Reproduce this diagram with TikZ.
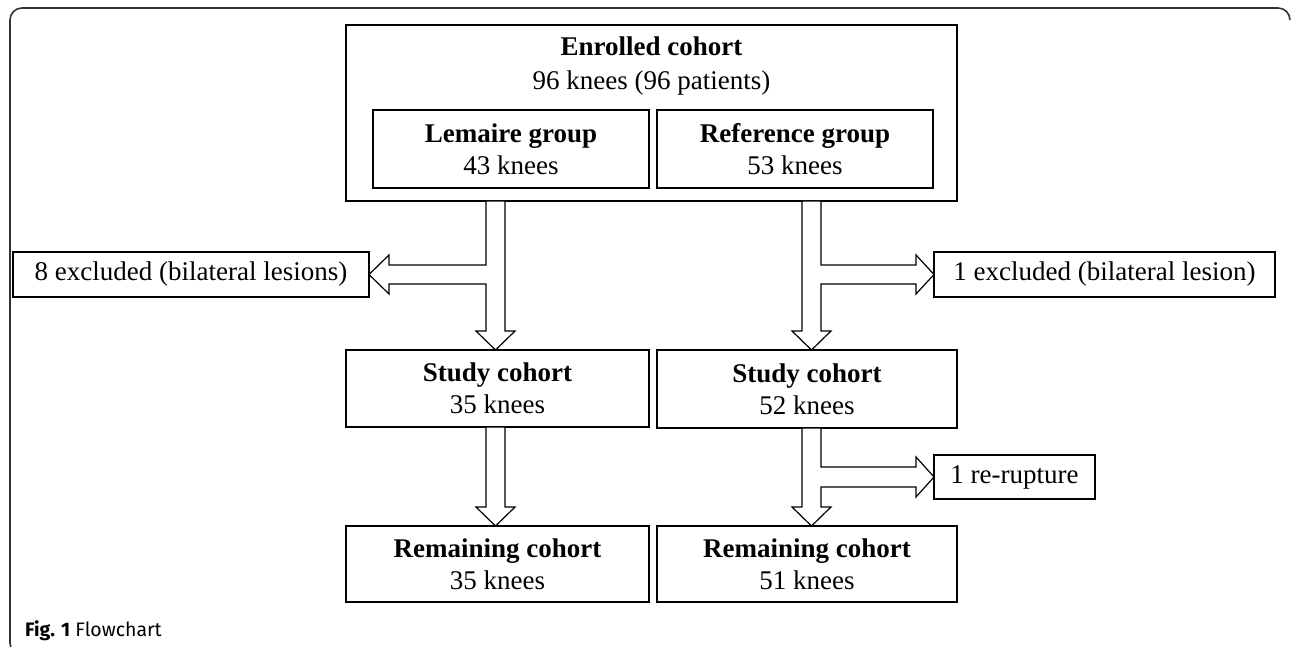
\documentclass[tikz,border=0pt]{standalone}
\usepackage{fontspec}
\setmainfont{Liberation Serif}
\newfontfamily\capfont{Fira Sans}
\usetikzlibrary{calc}
\tikzset{
  box/.style={draw, line width=1.2pt, inner sep=0pt, outer sep=0pt, align=center,
    font=\fontsize{27}{32}\selectfont, anchor=north west},
  blk/.style={draw, fill=white, line width=1.2pt, line join=miter},
  frame/.style={draw=black!80, line width=1.6pt},
}
\begin{document}
\begin{tikzpicture}[x=1pt, y=-1pt]
\useasboundingbox (0,0) rectangle (1293,647);
% frame
\draw[frame] (22,655) arc[start angle=90, end angle=180, radius=12] -- (10,20)
  arc[start angle=180, end angle=270, radius=12] -- (1278,8)
  arc[start angle=270, end angle=360, radius=12];
% boxes
\node[box, minimum width=611, minimum height=176] (enr) at (346,25) {};
\node[font=\fontsize{27}{33.5}\selectfont, align=center, inner sep=0pt] (enrt) at (651.5,66)
  {\textbf{Enrolled cohort}\\96 knees (96 patients)};
\node[box, minimum width=276, minimum height=78] (lem) at (373,110) {\textbf{Lemaire group}\\43 knees};
\node[box, minimum width=276, minimum height=78] (ref) at (657,110) {\textbf{Reference group}\\53 knees};
\node[box, minimum width=356, minimum height=45] (exl) at (13,252) {8 excluded (bilateral lesions)};
\node[box, minimum width=341, minimum height=45] (exr) at (934,252) {1 excluded (bilateral lesion)};
\node[box, minimum width=303, minimum height=77] (sl) at (346,350) {\textbf{Study cohort}\\35 knees};
\node[box, minimum width=300, minimum height=78] (sr) at (657,350) {\textbf{Study cohort}\\52 knees};
\node[box, minimum width=161, minimum height=44] (rr) at (934,455) {1 re-rupture};
\node[box, minimum width=303, minimum height=76] (rl) at (346,526) {\textbf{Remaining cohort}\\35 knees};
\node[box, minimum width=300, minimum height=76] (rrem) at (657,526) {\textbf{Remaining cohort}\\51 knees};
% caption
\node[anchor=base west, font=\capfont\fontsize{19.5}{21}\selectfont, inner sep=0pt] (cap) at (25,636)
  {\textbf{Fig. 1} Flowchart};
% left T arrow
\coordinate (Lt) at ($(enr.south -| sl.north)+(-2,0)$);
\coordinate (Lb) at ($(sl.north)+(-2,0)$);
\coordinate (Lm) at (Lt |- exl.east);
\draw[blk] ($(Lt)+(-9.5,0)$) -- ($(Lt)+(9.5,0)$) -- ($(Lb)+(9.5,-19)$) -- ($(Lb)+(19.5,-19)$)
  -- (Lb) -- ($(Lb)+(-19.5,-19)$) -- ($(Lb)+(-9.5,-19)$) -- ($(Lm)+(-9.5,9.5)$)
  -- ($(exl.east)+(20,9.5)$) -- ($(exl.east)+(20,19.5)$) -- (exl.east)
  -- ($(exl.east)+(20,-19.5)$) -- ($(exl.east)+(20,-9.5)$) -- ($(Lm)+(-9.5,-9.5)$) -- cycle;
% right T arrow
\coordinate (Rt) at ($(enr.south -| sr.north)+(4.5,0)$);
\coordinate (Rb) at ($(sr.north)+(4.5,0)$);
\coordinate (Rm) at (Rt |- exr.west);
\draw[blk] ($(Rt)+(-9.5,0)$) -- ($(Rt)+(9.5,0)$) -- ($(Rm)+(9.5,-9.5)$)
  -- ($(exr.west)+(-18,-9.5)$) -- ($(exr.west)+(-18,-19.5)$) -- (exr.west)
  -- ($(exr.west)+(-18,19.5)$) -- ($(exr.west)+(-18,9.5)$) -- ($(Rm)+(9.5,9.5)$)
  -- ($(Rb)+(9.5,-19)$) -- ($(Rb)+(19.5,-19)$) -- (Rb) -- ($(Rb)+(-19.5,-19)$)
  -- ($(Rb)+(-9.5,-19)$) -- cycle;
% left straight arrow
\coordinate (L2t) at ($(sl.south)+(-2,0)$);
\coordinate (L2b) at ($(rl.north)+(-2,0)$);
\draw[blk] ($(L2t)+(-9.5,0)$) -- ($(L2t)+(9.5,0)$) -- ($(L2b)+(9.5,-19)$) -- ($(L2b)+(19.5,-19)$)
  -- (L2b) -- ($(L2b)+(-19.5,-19)$) -- ($(L2b)+(-9.5,-19)$) -- cycle;
% right T arrow 2
\coordinate (R2t) at ($(sr.south)+(4.5,0)$);
\coordinate (R2b) at ($(rrem.north)+(4.5,0)$);
\coordinate (R2m) at (R2t |- rr.west);
\draw[blk] ($(R2t)+(-9.5,0)$) -- ($(R2t)+(9.5,0)$) -- ($(R2m)+(9.5,-10)$)
  -- ($(rr.west)+(-18,-10)$) -- ($(rr.west)+(-18,-20)$) -- (rr.west)
  -- ($(rr.west)+(-18,20)$) -- ($(rr.west)+(-18,10)$) -- ($(R2m)+(9.5,10)$)
  -- ($(R2b)+(9.5,-19)$) -- ($(R2b)+(19.5,-19)$) -- (R2b) -- ($(R2b)+(-19.5,-19)$)
  -- ($(R2b)+(-9.5,-19)$) -- cycle;
\end{tikzpicture}
\end{document}
